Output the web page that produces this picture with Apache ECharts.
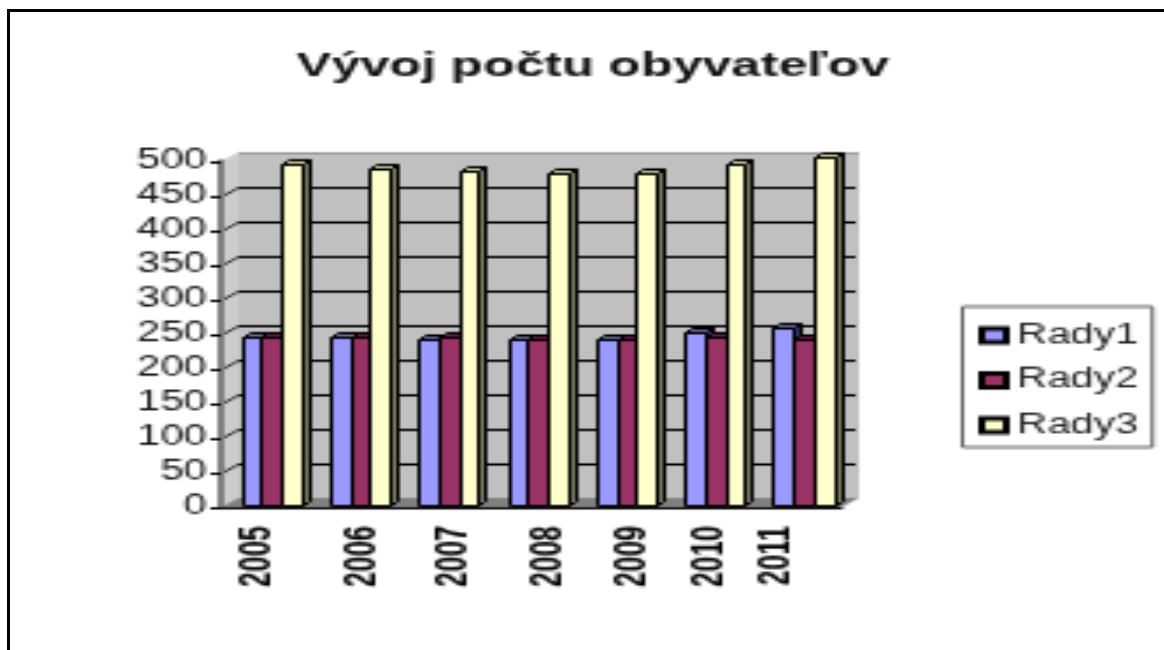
<!DOCTYPE html>
<html>
<head>
<meta charset="utf-8">
<title>Vývoj počtu obyvateľov</title>
<script src="https://cdn.jsdelivr.net/npm/echarts@6/dist/echarts.min.js"></script>
<style>
    html { overflow: hidden; }
    body { margin: 0; padding: 0; background: #fff; height: 650px; }
    /* the source is a small bitmap stretched unevenly, so draw small and scale up */
    #main { width: 332px; height: 282px; transform-origin: 0 0; transform: scale(3.506, 2.305); }
    #frame { position: absolute; left: 7px; top: 9px; width: 1157px; height: 641px; box-sizing: border-box;
             border-top: 3px solid #000; border-left: 3px solid #000; }
</style>
</head>
<body>
<div id="main"></div>
<div id="frame"></div>
<script>
var titleText = 'Vývoj počtu obyvateľov';
var years = ['2005', '2006', '2007', '2008', '2009', '2010', '2011'];
var yTicks = [0, 50, 100, 150, 200, 250, 300, 350, 400, 450, 500];
var rady1 = [243, 242, 241, 240, 239, 250, 256];
var rady2 = [245, 243, 243, 240, 240, 242, 240];
var rady3 = [493, 488, 483, 480, 480, 495, 503];

var seriesNames = ['Rady1', 'Rady2', 'Rady3'];
var seriesValues = [rady1, rady2, rady3];
var fills = ['#9999FF', '#993366', '#FFFFCC'];
var sides = ['#33337F', '#4D1A33', '#7F7F66'];
var tops = ['#666699', '#661A40', '#BFBF99'];

// wall depth in canvas px
var WALL_DX = 5, WALL_DY = -4;
var BAR_W = 5.7, BAR_DX = 2, BAR_DY = -2;

var myChart = echarts.init(document.getElementById('main'), null, { renderer: 'canvas', devicePixelRatio: 1 });

function poly(points, fill, stroke) {
    return {
        type: 'polygon',
        shape: { points: points },
        style: { fill: fill, stroke: stroke || null, lineWidth: 1 }
    };
}

function line(x1, y1, x2, y2, color) {
    return {
        type: 'line',
        shape: { x1: x1, y1: y1, x2: x2, y2: y2 },
        style: { stroke: color, lineWidth: 1 }
    };
}

// back wall, side wall and floor
function renderWalls(params, api) {
    var r = params.coordSys;
    var x0 = r.x, x1 = r.x + r.width, yTop = r.y, yBot = r.y + r.height;
    var kids = [
        poly([[x0 + WALL_DX, yTop + WALL_DY], [x1 + WALL_DX, yTop + WALL_DY], [x1 + WALL_DX, yBot + WALL_DY], [x0 + WALL_DX, yBot + WALL_DY]], '#C0C0C0'),
        poly([[x0, yTop], [x0 + WALL_DX, yTop + WALL_DY], [x0 + WALL_DX, yBot + WALL_DY], [x0, yBot]], '#CCCCCC'),
        poly([[x0, yBot], [x1, yBot], [x1 + WALL_DX, yBot + WALL_DY], [x0 + WALL_DX, yBot + WALL_DY]], '#808080'),
        line(x0 + WALL_DX, yTop + WALL_DY + 0.5, x1 + WALL_DX, yTop + WALL_DY + 0.5, '#9A9A9A')
    ];
    yTicks.forEach(function (v) {
        if (v === 0 || v === 500) return;
        var y = Math.round(api.coord([0, v])[1]) + 0.5;
        kids.push(line(x0, y, x0 + WALL_DX, y + WALL_DY, '#333'));
        kids.push(line(x0 + WALL_DX, y + WALL_DY, x1 + WALL_DX - 1, y + WALL_DY, '#000'));
    });
    return { type: 'group', children: kids };
}

function renderBar(params, api) {
    var s = params.seriesIndex - 1;
    var p = api.coord([api.value(0), api.value(1)]);
    var base = Math.round(api.coord([api.value(0), 0])[1]) - 0.5;
    var left = Math.round(p[0] - 6.9 + s * BAR_W) + 0.5;
    var right = Math.round(p[0] - 6.9 + (s + 1) * BAR_W) + 0.5;
    var top = Math.round(p[1]) + 0.5 - 1;
    return {
        type: 'group',
        children: [
            poly([[right, top], [right + BAR_DX, top + BAR_DY], [right + BAR_DX, base + BAR_DY], [right, base]], sides[s], '#000'),
            poly([[left, top], [left + BAR_DX, top + BAR_DY], [right + BAR_DX, top + BAR_DY], [right, top]], tops[s], '#000'),
            poly([[left, top], [right, top], [right, base], [left, base]], fills[s], '#000')
        ]
    };
}

var seriesList = [{
    name: 'walls',
    type: 'custom',
    z: 1,
    silent: true,
    renderItem: renderWalls,
    data: [[0, 0]]
}];
seriesNames.forEach(function (name, s) {
    seriesList.push({
        name: name,
        type: 'custom',
        z: 4,
        renderItem: renderBar,
        encode: { x: 0, y: 1 },
        itemStyle: { color: fills[s], borderColor: '#000', borderWidth: 1 },
        data: seriesValues[s].map(function (v, i) { return [i, v]; })
    });
});

// the source labels sit unevenly under their groups; padding nudges them sideways
var labelPad = {
    '2005': [0, 0, 3, 0], '2006': [6, 0, 0, 0], '2007': [6, 0, 0, 0], '2008': [10, 0, 0, 0],
    '2009': [7, 0, 0, 0], '2010': [2, 0, 0, 0], '2011': [0, 0, 11, 0]
};
var richLabels = {};
years.forEach(function (y) {
    richLabels['y' + y] = { padding: labelPad[y], fontFamily: 'Liberation Sans', fontSize: 12, fontWeight: 'bold', color: '#000' };
});

var option = {
    animation: false,
    backgroundColor: '#fff',
    textStyle: { fontFamily: 'Liberation Sans' },
    title: {
        text: titleText,
        left: 164,
        top: 16,
        textAlign: 'center',
        textStyle: { fontFamily: 'Liberation Sans', fontSize: 15, fontWeight: 'bold', color: '#111' }
    },
    legend: {
        data: seriesNames,
        orient: 'vertical',
        left: 274.5,
        top: 133,
        padding: [6.5, 4, 3.5, 4.5],
        itemWidth: 7,
        itemHeight: 6,
        itemGap: 7.5,
        icon: 'rect',
        borderColor: '#666',
        borderWidth: 1,
        backgroundColor: '#fff',
        textStyle: { fontFamily: 'Liberation Sans', fontSize: 12, color: '#222', padding: [0, 0, 0, -2] }
    },
    grid: { left: 63, right: 92, top: 70, bottom: 62 },
    xAxis: {
        type: 'category',
        data: years,
        z: 3,
        axisLine: { lineStyle: { color: '#111', width: 1 } },
        axisTick: { length: 2, lineStyle: { color: '#000' } },
        axisLabel: {
            rotate: 90,
            margin: 8,
            interval: 0,
            formatter: function (v) { return '{y' + v + '|' + v + '}'; },
            rich: richLabels
        }
    },
    yAxis: {
        type: 'value',
        min: 0,
        max: 500,
        interval: 50,
        z: 3,
        splitLine: { show: false },
        axisLine: { show: true, lineStyle: { color: '#808080', width: 2 } },
        axisTick: { show: true, length: 3, lineStyle: { color: '#000' } },
        axisLabel: { margin: 4, fontFamily: 'Liberation Sans', fontSize: 12, color: '#111' }
    },
    series: seriesList
};
myChart.setOption(option);
</script>
</body>
</html>
